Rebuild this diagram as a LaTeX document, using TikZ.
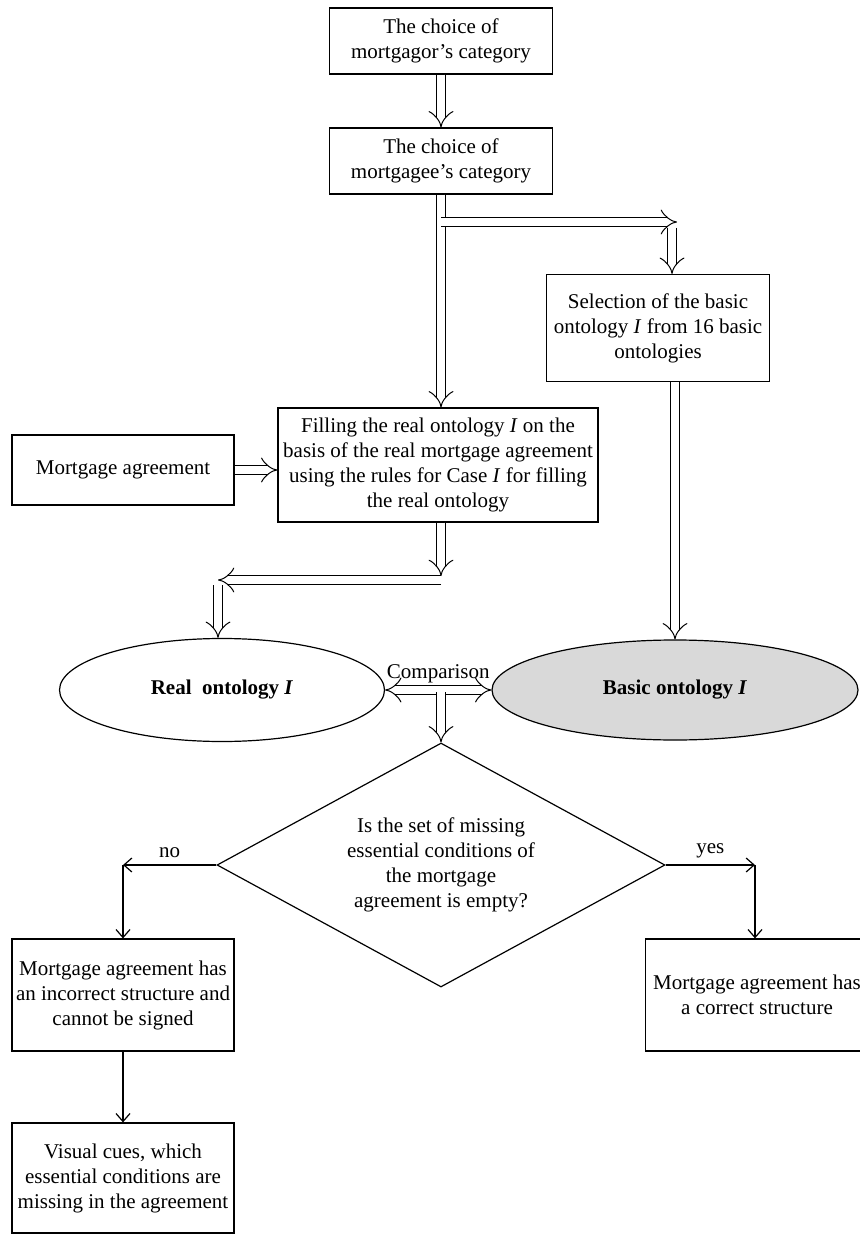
\documentclass[tikz,border=0pt]{standalone}
\usepackage{fontspec}
\setmainfont{Liberation Serif}
\usetikzlibrary{shapes.geometric}
\usetikzlibrary{positioning}
\usetikzlibrary{arrows.meta}

\begin{document}
\begin{tikzpicture}[x=0.5pt, y=-0.5pt,
            font=\fontsize{10.5}{12.5}\selectfont,
            box/.style={draw, rectangle, line width=0.6pt, align=center, inner sep=2pt},
            oval/.style={draw, ellipse, line width=0.6pt, align=center, font=\fontsize{10.5}{12.5}\selectfont\bfseries},
            dbl/.style={double, double distance=4pt, line width=0.5pt, -{Implies[scale=1.3]}},
            arr/.style={line width=0.6pt, -{Straight Barb[length=4pt, width=7pt]}}]
            \useasboundingbox (0,0) rectangle (860,1234);
            % Mortgage agreement checking flow
            \node[box, minimum width=111.5pt, minimum height=33pt] (mortgagor) at (441,41) {The choice of\\mortgagor's category};
            \node[box, minimum width=111.5pt, minimum height=33pt] (mortgagee) at (441,161) {The choice of\\mortgagee's category};
            \node[box, minimum width=111.5pt, minimum height=53.5pt] (select) at (658,328) {Selection of the basic\\ontology \textit{I} from 16 basic\\ontologies};
            \node[box, minimum width=111pt, minimum height=35pt] (agreement) at (123,470) {Mortgage agreement};
            \node[box, minimum width=160pt, minimum height=57pt] (filling) at (438,465) {Filling the real ontology \textit{I} on the\\basis of the real mortgage agreement\\using the rules for Case \textit{I} for filling\\the real ontology};
            \node[oval, minimum width=162.5pt, minimum height=51.5pt] (real) at (222,690) {Real\ \ ontology \textit{I}};
            \node[oval, fill=black!15, minimum width=183pt, minimum height=50pt] (basic) at (675,690) {Basic ontology \textit{I}};
            \node[draw, diamond, line width=0.6pt, align=center, aspect=1.84, inner sep=0pt, minimum width=224pt, minimum height=122pt] (empty) at (441,865) {Is the set of missing\\essential conditions of\\the mortgage\\agreement is empty?};
            \node[box, minimum width=111pt, minimum height=56pt] (incorrect) at (123,995) {Mortgage agreement has\\an incorrect structure and\\cannot be signed};
            \node[box, minimum width=111.5pt, minimum height=56pt] (correct) at (757,995) {Mortgage agreement has\\a correct structure};
            \node[box, minimum width=111pt, minimum height=55pt] (cues) at (123,1178) {Visual cues, which\\essential conditions are\\missing in the agreement};

            \coordinate (split) at (441,222);
            \coordinate (splitend) at (677,222);
            \coordinate (turn) at (672,228);
            \coordinate (down) at (441,576);
            \coordinate (left) at (218,580);
            \coordinate (leftdown) at (218,585);
            \coordinate (compare) at (441,692);
            \coordinate (nocorner) at (123,865);
            \coordinate (yescorner) at (755,865);

            \draw[dbl] (mortgagor) -- (mortgagee);
            \draw[dbl] (mortgagee.south -| split) -- (filling.north -| split);
            \draw[dbl] (split) -- (splitend);
            \draw[dbl] (turn) -- (turn |- select.north);
            \draw[dbl] (agreement) -- (filling.west |- agreement);
            \draw[dbl] (filling.south -| down) -- (down);
            \draw[dbl] (down |- left) -- (left);
            \draw[dbl] (leftdown) -- (leftdown |- real.north);
            \draw[dbl] (select.south -| basic) -- (basic.north);
            \draw[dbl, {Implies[scale=1.3]}-{Implies[scale=1.3]}] (real) -- node[above, font=\fontsize{10.5}{12.5}\selectfont] {Comparison} (basic);
            \draw[dbl] (compare) -- (empty.north);
            \draw[arr] (empty.west) -- node[above] {no} (nocorner);
            \draw[arr] (nocorner) -- (incorrect.north);
            \draw[arr] (empty.east) -- node[above] {yes} (yescorner);
            \draw[arr] (yescorner) -- (yescorner |- correct.north);
            \draw[arr] (incorrect) -- (cues);
        \end{tikzpicture}
\end{document}
